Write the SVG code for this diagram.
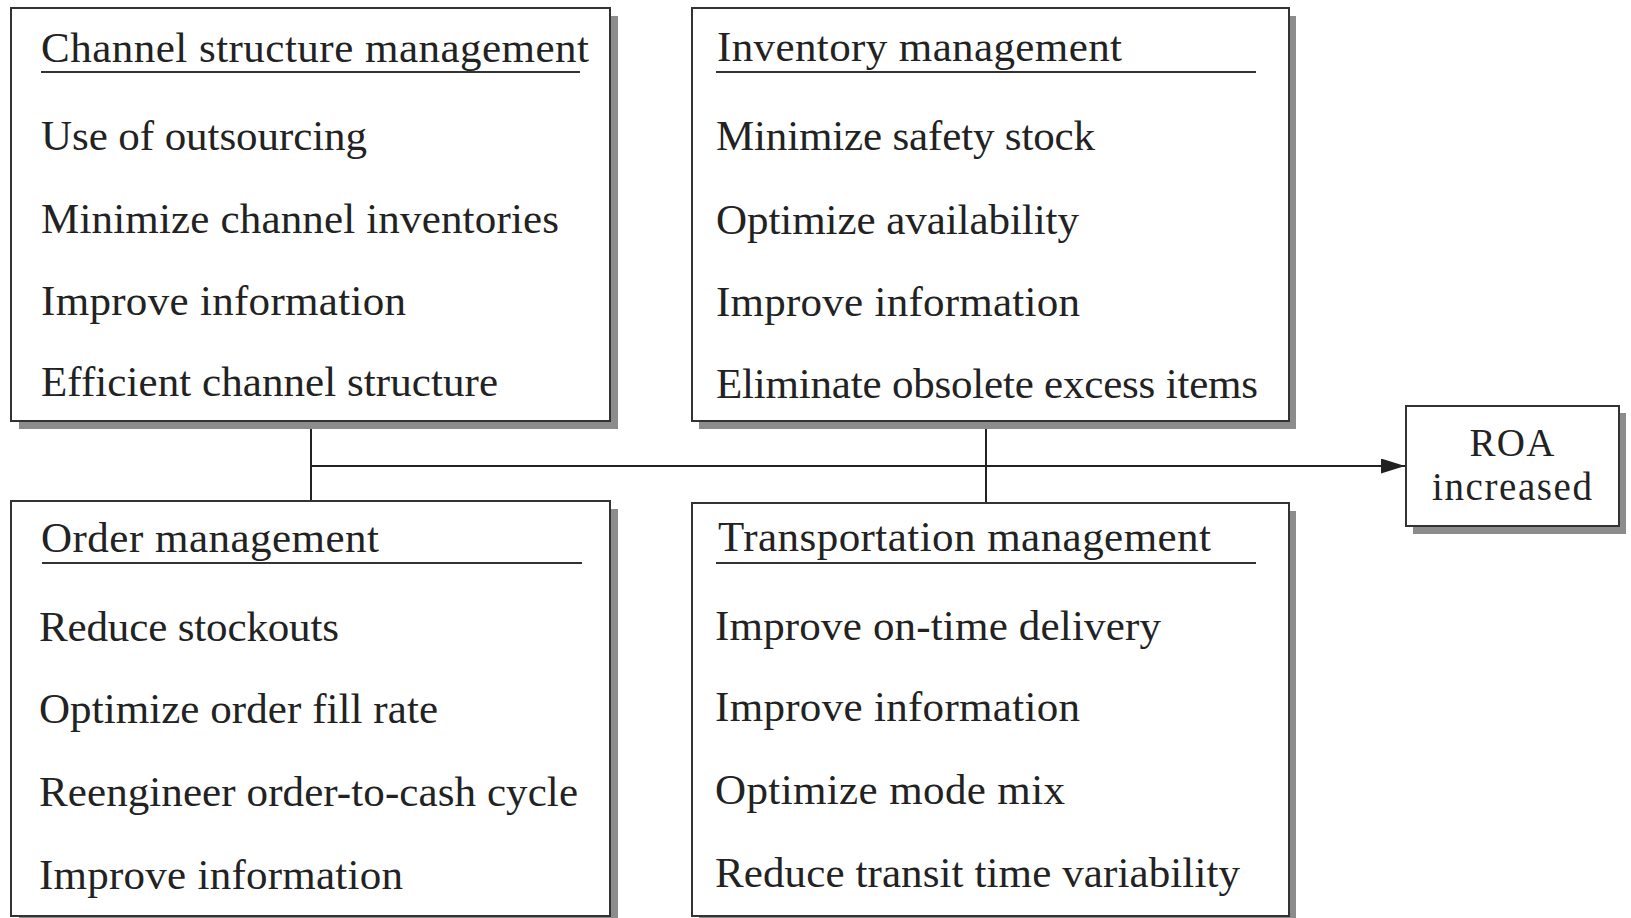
<svg xmlns="http://www.w3.org/2000/svg" width="1631" height="918" viewBox="0 0 1631 918">
<style>
.shadow{fill:#8c8c8c;stroke:none}
.box{fill:#fff;stroke:#333;stroke-width:2}
.t{font-family:"Liberation Serif","Times New Roman",serif;font-size:43px;fill:#222}
.r{font-family:"Liberation Serif","Times New Roman",serif;font-size:39px;fill:#222;text-anchor:middle}
.u{stroke:#333;stroke-width:2}
.c{stroke:#222;stroke-width:2;fill:none}
</style>
<defs>
<marker id="arr" markerWidth="24" markerHeight="15" refX="24" refY="7.5" orient="auto" markerUnits="userSpaceOnUse">
<path d="M0,0 L24,7.5 L0,15 Z" fill="#222"/>
</marker>
</defs>
<g id="connectors">
<line class="c" x1="311" y1="421" x2="311" y2="501"/>
<line class="c" x1="986" y1="421" x2="986" y2="503"/>
<line class="c" x1="311" y1="466" x2="1405" y2="466" marker-end="url(#arr)"/>
</g>
<g id="channel">
<rect class="shadow" x="19" y="16" width="599" height="413"/>
<rect class="box" x="11" y="8" width="599" height="413"/>
<text class="t" x="41" y="62" textLength="548">Channel structure management</text>
<line class="u" x1="41" y1="72" x2="580" y2="72"/>
<text class="t" x="41" y="150" textLength="326">Use of outsourcing</text>
<text class="t" x="41" y="233" textLength="518">Minimize channel inventories</text>
<text class="t" x="41" y="315" textLength="365">Improve information</text>
<text class="t" x="41" y="396" textLength="457">Efficient channel structure</text>
</g>
<g id="inventory">
<rect class="shadow" x="699" y="16" width="597" height="413"/>
<rect class="box" x="692" y="8" width="597" height="413"/>
<text class="t" x="717" y="61" textLength="405">Inventory management</text>
<line class="u" x1="716" y1="72" x2="1256" y2="72"/>
<text class="t" x="716" y="150" textLength="379">Minimize safety stock</text>
<text class="t" x="716" y="234" textLength="363">Optimize availability</text>
<text class="t" x="716" y="316" textLength="364">Improve information</text>
<text class="t" x="716" y="398" textLength="542">Eliminate obsolete excess items</text>
</g>
<g id="order">
<rect class="shadow" x="19" y="509" width="599" height="416"/>
<rect class="box" x="11" y="501" width="599" height="415"/>
<text class="t" x="41" y="552" textLength="338">Order management</text>
<line class="u" x1="42" y1="563" x2="582" y2="563"/>
<text class="t" x="39" y="641" textLength="300">Reduce stockouts</text>
<text class="t" x="39" y="723" textLength="399">Optimize order fill rate</text>
<text class="t" x="39" y="806" textLength="539">Reengineer order-to-cash cycle</text>
<text class="t" x="39" y="889" textLength="364">Improve information</text>
</g>
<g id="transportation">
<rect class="shadow" x="699" y="511" width="597" height="414"/>
<rect class="box" x="692" y="503" width="597" height="413"/>
<text class="t" x="718" y="551" textLength="493">Transportation management</text>
<line class="u" x1="716" y1="563" x2="1256" y2="563"/>
<text class="t" x="715" y="640" textLength="446">Improve on-time delivery</text>
<text class="t" x="715" y="721" textLength="365">Improve information</text>
<text class="t" x="715" y="804" textLength="350">Optimize mode mix</text>
<text class="t" x="715" y="887" textLength="525">Reduce transit time variability</text>
</g>
<g id="roa">
<rect class="shadow" x="1413" y="413" width="213" height="121"/>
<rect class="box" x="1406" y="406" width="213" height="120"/>
<text class="r" x="1512" y="456" textLength="85">ROA</text>
<text class="r" x="1512" y="500" textLength="160">increased</text>
</g>
</svg>
